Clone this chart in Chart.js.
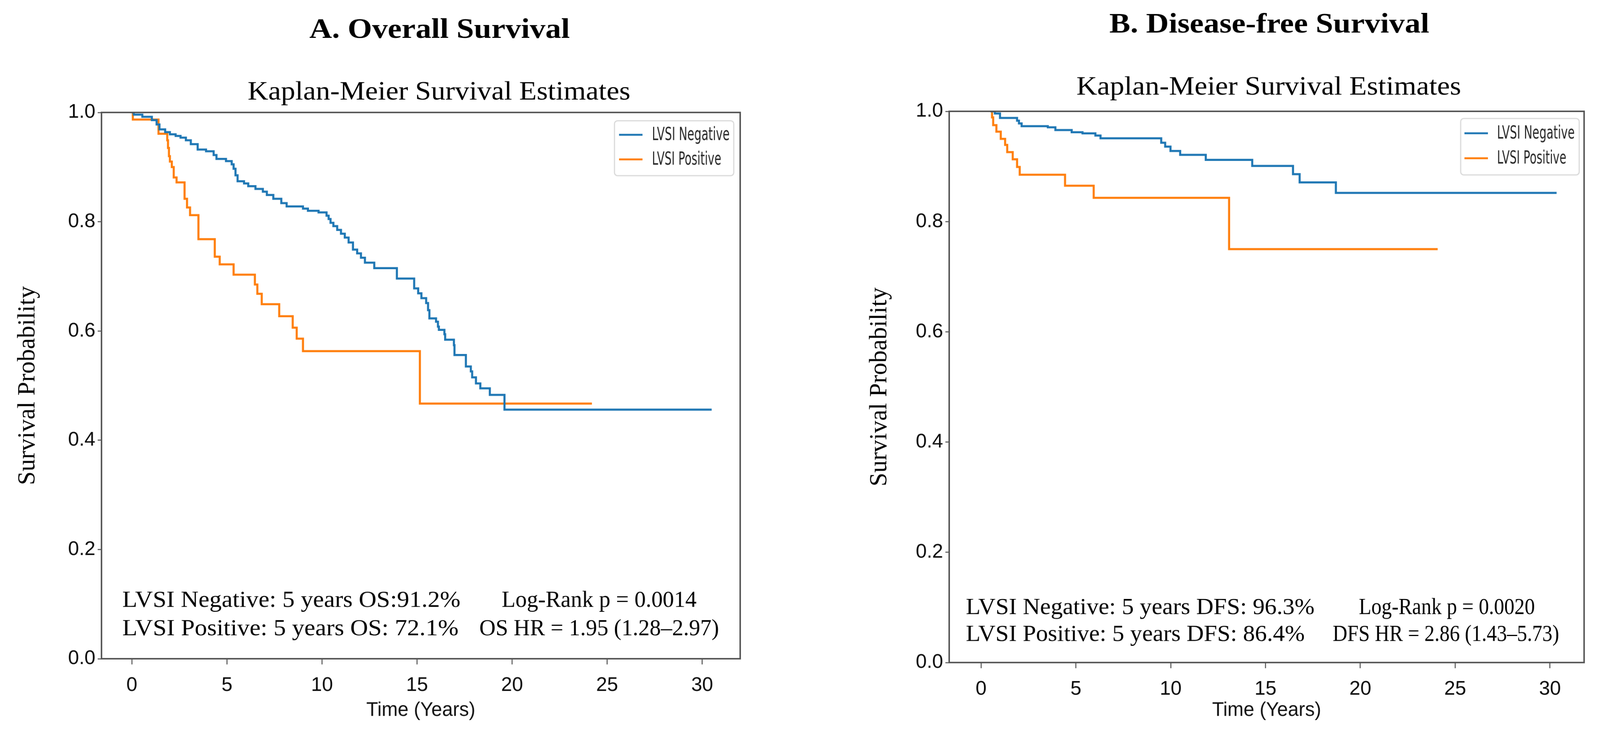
<!DOCTYPE html>
<html>
<head>
<meta charset="utf-8">
<script src="https://cdn.jsdelivr.net/npm/chart.js@4.4.1/dist/chart.umd.min.js"></script>
<style>
  html, body { margin: 0; padding: 0; background: #fff; overflow: hidden; }
  #wrap { display: flex; width: 100vw; }
  #wrap canvas { display: block; width: 50vw; height: auto; }
</style>
</head>
<body>
<div id="wrap">
  <canvas id="os" width="2113" height="1935" style="width:50vw;height:auto"></canvas>
  <canvas id="dfs" width="2113" height="1935" style="width:50vw;height:auto"></canvas>
</div>
<script>
// Kaplan-Meier step values (time in years, survival after each step)
const osNegTime = [0, 0.1, 0.55, 1.05, 1.3, 1.45, 1.75, 2.0, 2.3, 2.56, 2.84, 3.1, 3.46, 3.9, 4.3, 4.45, 4.95,
  5.25, 5.35, 5.45, 5.56, 5.9, 6.12, 6.5, 6.89, 7.1, 7.44, 7.86, 8.14, 9.0, 9.26, 9.82, 10.24, 10.35, 10.45,
  10.6, 10.8, 11.0, 11.2, 11.4, 11.63, 11.85, 12.05, 12.26, 12.75, 13.94, 14.85, 15.06, 15.23, 15.48, 15.58,
  15.65, 16.0, 16.1, 16.15, 16.44, 16.48, 16.94, 16.97, 17.57, 17.83, 17.9, 18.1, 18.33, 18.83, 19.6, 30.5];
const osNegSurv = [1.0, 0.996, 0.992, 0.986, 0.978, 0.969, 0.964, 0.960, 0.957, 0.954, 0.949, 0.942, 0.932, 0.929, 0.922, 0.915, 0.911,
  0.905, 0.897, 0.885, 0.874, 0.870, 0.865, 0.860, 0.855, 0.849, 0.842, 0.834, 0.828, 0.824, 0.820, 0.817, 0.811, 0.805, 0.798,
  0.792, 0.785, 0.778, 0.771, 0.762, 0.749, 0.742, 0.734, 0.725, 0.715, 0.696, 0.678, 0.669, 0.660, 0.651, 0.638,
  0.623, 0.617, 0.608, 0.602, 0.594, 0.584, 0.574, 0.556, 0.535, 0.526, 0.515, 0.504, 0.495, 0.483, 0.456, 0.456];

const osPosTime = [0, 0.05, 1.4, 1.86, 1.9, 1.95, 2.0, 2.1, 2.2, 2.35, 2.77, 2.9, 3.06, 3.5, 4.36, 4.62, 5.35,
  6.47, 6.6, 6.83, 7.75, 8.46, 8.67, 9.0, 15.15, 24.2];
const osPosSurv = [1.0, 0.987, 0.961, 0.949, 0.935, 0.920, 0.910, 0.900, 0.881, 0.872, 0.842, 0.826, 0.812, 0.768, 0.736, 0.722, 0.703,
  0.685, 0.668, 0.649, 0.627, 0.606, 0.586, 0.563, 0.467, 0.467];

const dfsNegTime = [0.5, 0.73, 1.0, 1.9, 2.0, 2.14, 3.52, 3.92, 4.78, 5.35, 6.03, 6.3, 9.5, 9.71, 9.99, 10.5,
  11.85, 14.3, 16.45, 16.8, 18.71, 30.35];
const dfsNegSurv = [1.0, 0.996, 0.988, 0.983, 0.978, 0.973, 0.971, 0.966, 0.962, 0.960, 0.956, 0.951, 0.943, 0.936, 0.928, 0.921,
  0.912, 0.901, 0.886, 0.871, 0.852, 0.852];

const dfsPosTime = [0.5, 0.58, 0.64, 0.81, 1.04, 1.27, 1.38, 1.67, 1.9, 2.04, 4.43, 5.94, 13.08, 24.08];
const dfsPosSurv = [1.0, 0.989, 0.975, 0.963, 0.950, 0.939, 0.926, 0.913, 0.899, 0.885, 0.865, 0.843, 0.750, 0.750];

const timeTicks = [0, 5, 10, 15, 20, 25, 30];
const probTicks = [0, 0.2, 0.4, 0.6, 0.8, 1.0];
const groupLabels = ['LVSI Negative', 'LVSI Positive'];

const osNotes = ['LVSI Negative: 5 years OS:91.2%', 'LVSI Positive: 5 years OS: 72.1%'];
const osStats = ['Log-Rank p = 0.0014', 'OS HR = 1.95 (1.28\u20132.97)'];
const dfsNotes = ['LVSI Negative: 5 years DFS: 96.3%', 'LVSI Positive: 5 years DFS: 86.4%'];
const dfsStats = ['Log-Rank p = 0.0020', 'DFS HR = 2.86 (1.43\u20135.73)'];

const COLORS = ['#1f77b4', '#ff7f0e'];
const SERIF = '"Liberation Serif", "Times New Roman", serif';
const SANS = '"Liberation Sans", Arial, sans-serif';

function toPoints(times, surv) {
  return times.map((t, i) => ({ x: t, y: surv[i] }));
}

// draw text left-anchored at x, squeezed/stretched to a given width
function fitText(ctx, text, x, y, width) {
  const w = ctx.measureText(text).width;
  ctx.save();
  ctx.translate(x, y);
  ctx.scale(width / w, 1);
  ctx.textAlign = 'left';
  ctx.fillText(text, 0, 0);
  ctx.restore();
}

// plot frame (all four spines) on top of the curves
const framePlugin = {
  id: 'frame',
  afterDatasetsDraw(chart) {
    const { ctx, chartArea: a } = chart;
    ctx.save();
    ctx.strokeStyle = '#555';
    ctx.lineWidth = 4;
    ctx.strokeRect(a.left, a.top, a.right - a.left, a.bottom - a.top);
    ctx.restore();
  }
};

// titles, legend box and the statistics text
const textPlugin = {
  id: 'panelText',
  afterDraw(chart, args, o) {
    const ctx = chart.ctx;
    ctx.save();
    ctx.fillStyle = '#000';
    ctx.textBaseline = 'alphabetic';

    ctx.font = 'bold 75px ' + SERIF;
    fitText(ctx, o.title, o.title_[0], o.title_[1], o.title_[2]);
    ctx.font = '69px ' + SERIF;
    fitText(ctx, 'Kaplan-Meier Survival Estimates', o.sub[0], o.sub[1], o.sub[2]);

    // legend
    const lg = o.legend;
    ctx.fillStyle = 'rgba(255,255,255,0.9)';
    ctx.strokeStyle = '#d9d9d9';
    ctx.lineWidth = 3;
    ctx.beginPath();
    ctx.roundRect(lg.x, lg.y, lg.w, lg.h, 8);
    ctx.fill();
    ctx.stroke();
    chart.data.datasets.forEach((ds, i) => {
      const ry = lg.rows[i];
      ctx.strokeStyle = ds.borderColor;
      ctx.lineWidth = 5;
      ctx.beginPath();
      ctx.moveTo(lg.lineX, ry);
      ctx.lineTo(lg.lineX + 62, ry);
      ctx.stroke();
      ctx.fillStyle = '#262626';
      ctx.font = '48px "DejaVu Sans", sans-serif';
      ctx.textBaseline = 'middle';
      fitText(ctx, ds.label, lg.textX, ry + 2, lg.textW[i]);
    });

    ctx.fillStyle = '#000';
    ctx.textBaseline = 'alphabetic';
    ctx.font = '62px ' + SERIF;
    o.lines.forEach(l => fitText(ctx, l.text, l.x, l.y, l.w));
    ctx.restore();
  }
};

function makePanel(id, p) {
  return new Chart(document.getElementById(id), {
    type: 'line',
    data: {
      datasets: [
        { label: groupLabels[0], data: toPoints(p.negTime, p.negSurv), borderColor: COLORS[0] },
        { label: groupLabels[1], data: toPoints(p.posTime, p.posSurv), borderColor: COLORS[1] }
      ]
    },
    options: {
      responsive: false,
      animation: false,
      devicePixelRatio: 1,
      parsing: false,
      events: [],
      layout: { padding: { left: 0, right: p.padRight, top: p.top, bottom: 0 } },
      elements: {
        line: { borderWidth: 5.5, stepped: 'before', fill: false, tension: 0 },
        point: { radius: 0, hoverRadius: 0 }
      },
      plugins: {
        legend: { display: false },
        tooltip: { enabled: false },
        title: { display: false },
        panelText: p.text
      },
      scales: {
        x: {
          type: 'linear',
          min: p.xMin,
          max: p.xMax,
          afterBuildTicks: s => { s.ticks = timeTicks.map(v => ({ value: v })); },
          afterFit: s => { s.height = p.xHeight; },
          grid: { drawOnChartArea: false, drawTicks: true, tickLength: 15, tickWidth: 3, tickColor: '#666' },
          border: { display: false },
          ticks: { font: { family: SANS, size: 52 }, color: '#0a0a0a', padding: 24, maxRotation: 0, autoSkip: false },
          title: { display: true, text: 'Time (Years)', font: { family: SANS, size: 51 }, color: '#111', padding: { top: 0, bottom: 27 } }
        },
        y: {
          type: 'linear',
          min: 0,
          max: 1,
          afterBuildTicks: s => { s.ticks = probTicks.map(v => ({ value: v })); },
          afterFit: s => { s.width = p.yWidth; },
          grid: { drawOnChartArea: false, drawTicks: true, tickLength: 10, tickWidth: 3, tickColor: '#666' },
          border: { display: false },
          ticks: { font: { family: SANS, size: 52 }, color: '#0a0a0a', padding: 6, callback: v => v.toFixed(1) },
          title: { display: true, text: 'Survival Probability', font: { family: SERIF, size: 65 }, color: '#000', padding: { top: p.yTitlePad, bottom: 0 } }
        }
      }
    },
    plugins: [framePlugin, textPlugin]
  });
}

makePanel('os', {
  negTime: osNegTime, negSurv: osNegSurv, posTime: osPosTime, posSurv: osPosSurv,
  xMin: -1.6, xMax: 32.0, padRight: 158, top: 297, yWidth: 268, xHeight: 195, yTitlePad: 35,
  text: {
    title: 'A. Overall Survival', title_: [817, 100, 688], sub: [654, 263, 1011],
    lines: [
      { text: osNotes[0], x: 323, y: 1603, w: 893 },
      { text: osNotes[1], x: 323, y: 1678, w: 888 },
      { text: osStats[0], x: 1325, y: 1603, w: 515 },
      { text: osStats[1], x: 1266, y: 1678, w: 633 }
    ],
    legend: { x: 1623, y: 319, w: 315, h: 145, rows: [356, 421], lineX: 1635, textX: 1722, textW: [205, 183] }
  }
});

makePanel('dfs', {
  negTime: dfsNegTime, negSurv: dfsNegSurv, posTime: dfsPosTime, posSurv: dfsPosSurv,
  xMin: -1.68, xMax: 31.8, padRight: 42, top: 294, yWidth: 394, xHeight: 185, yTitlePad: 172,
  text: {
    title: 'B. Disease-free Survival', title_: [817, 86, 845], sub: [730, 250, 1016],
    lines: [
      { text: dfsNotes[0], x: 438, y: 1622, w: 921 },
      { text: dfsNotes[1], x: 438, y: 1693, w: 895 },
      { text: dfsStats[0], x: 1476, y: 1622, w: 465 },
      { text: dfsStats[1], x: 1407, y: 1693, w: 598 }
    ],
    legend: { x: 1745, y: 313, w: 313, h: 149, rows: [352, 418], lineX: 1755, textX: 1841, textW: [205, 183] }
  }
});
</script>
</body>
</html>
